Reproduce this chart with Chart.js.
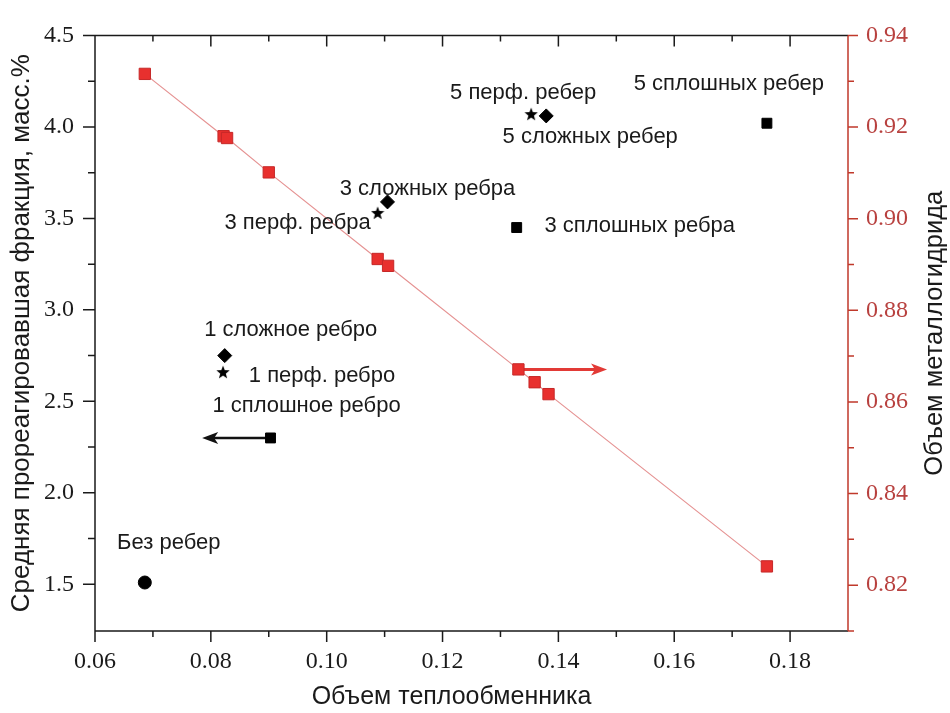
<!DOCTYPE html>
<html>
<head>
<script src="https://cdn.jsdelivr.net/npm/chart.js@4.4.1/dist/chart.umd.min.js"></script>
<style>
  body { margin: 0; background: #fff; }
  .chart-container { width: 950px; height: 713px; }
</style>
</head>
<body>
<div class="chart-container"><canvas id="myChart"></canvas></div>
<script>
// red series: metal hydride volume (right axis)
var hydrideX = [0.0686, 0.0822, 0.0828, 0.0900, 0.1088, 0.1106, 0.1331, 0.1359, 0.1383, 0.1760];
var hydrideY = [0.9316, 0.9180, 0.9176, 0.9101, 0.8912, 0.8897, 0.8671, 0.8643, 0.8617, 0.8241];

// black points: mean reacted fraction (left axis)
var noneX = [0.0686];
var noneY = [1.51];
var noneNames = ["Без ребер"];

var solidX = [0.0903, 0.1328, 0.1760];
var solidY = [2.30, 3.45, 4.02];
var solidNames = ["1 сплошное ребро", "3 сплошных ребра", "5 сплошных ребер"];

var complexX = [0.0824, 0.1105, 0.1379];
var complexY = [2.75, 3.59, 4.06];
var complexNames = ["1 сложное ребро", "3 сложных ребра", "5 сложных ребер"];

var perfX = [0.0821, 0.1088, 0.1353];
var perfY = [2.66, 3.53, 4.07];
var perfNames = ["1 перф. ребро", "3 перф. ребра", "5 перф. ребер"];

// arrows showing which axis a series belongs to
var arrowStartX = [0.0903, 0.1331];
var arrowEndX = [0.0785, 0.1484];
var arrowY = [2.30, 0.8671];
var arrowAxis = ["y", "y2"];

// ticks
var xMajorTicks = [0.06, 0.08, 0.10, 0.12, 0.14, 0.16, 0.18];
var xMinorTicks = [0.07, 0.09, 0.11, 0.13, 0.15, 0.17];
var yMajorTicks = [1.5, 2.0, 2.5, 3.0, 3.5, 4.0, 4.5];
var yMinorTicks = [1.75, 2.25, 2.75, 3.25, 3.75, 4.25];
var y2MajorTicks = [0.82, 0.84, 0.86, 0.88, 0.90, 0.92, 0.94];
var y2MinorTicks = [0.81, 0.83, 0.85, 0.87, 0.89, 0.91, 0.93];

// styling (pixel offsets of the text labels from their points)
var labelOffsets = {
  none: [[24, -40]],
  solid: [[36, -32], [123, -2], [-38, -39]],
  complex: [[66, -26], [40, -13], [44, 21]],
  perf: [[99, 4], [-80, 10], [-8, -21]]
};
var arrowColors = ["#111", "#e23a36"];
var RED_AXIS = "#c0392b";
var RED_TEXT = "#b8413f";
var INK = "#1a1a1a";
var SANS = "Liberation Sans, Arial, sans-serif";
var SERIF = "Liberation Serif, Times New Roman, serif";

function pts(xs, ys) {
  return xs.map(function (x, i) { return { x: x, y: ys[i] }; });
}

// filled 5-point star used as a point style
function makeStar(size) {
  var c = document.createElement("canvas");
  c.width = size; c.height = size;
  var g = c.getContext("2d");
  var cx = size / 2, cy = size / 2 + 0.5, R = size / 2, r = R * 0.42;
  g.beginPath();
  for (var i = 0; i < 10; i++) {
    var a = -Math.PI / 2 + i * Math.PI / 5;
    var rr = i % 2 === 0 ? R : r;
    g.lineTo(cx + rr * Math.cos(a), cy + rr * Math.sin(a));
  }
  g.closePath();
  g.fillStyle = "#000";
  g.fill();
  return c;
}
var starImg = makeStar(14);

function setTicks(list) {
  return function (scale) {
    scale.ticks = list.map(function (v) { return { value: v }; });
  };
}

var frameAndTicks = {
  id: "frameAndTicks",
  beforeDatasetsDraw: function (chart) {
    var ctx = chart.ctx;
    // arrows
    for (var i = 0; i < arrowStartX.length; i++) {
      var sx = chart.scales.x.getPixelForValue(arrowStartX[i]);
      var ex = chart.scales.x.getPixelForValue(arrowEndX[i]);
      var py = chart.scales[arrowAxis[i]].getPixelForValue(arrowY[i]);
      var dir = ex > sx ? 1 : -1;
      ctx.save();
      ctx.strokeStyle = arrowColors[i];
      ctx.fillStyle = arrowColors[i];
      ctx.lineWidth = i === 0 ? 2.5 : 3;
      ctx.beginPath();
      ctx.moveTo(sx, py);
      ctx.lineTo(ex - dir * 10, py);
      ctx.stroke();
      ctx.beginPath();
      ctx.moveTo(ex, py);
      ctx.lineTo(ex - dir * 16, py - 6);
      ctx.lineTo(ex - dir * 12, py);
      ctx.lineTo(ex - dir * 16, py + 6);
      ctx.closePath();
      ctx.fill();
      ctx.restore();
    }
  },
  afterDraw: function (chart) {
    var ctx = chart.ctx;
    var a = chart.chartArea;
    var sx = chart.scales.x, sy = chart.scales.y, sy2 = chart.scales.y2;
    ctx.save();
    ctx.lineWidth = 1.5;
    ctx.strokeStyle = INK;
    ctx.beginPath();
    ctx.moveTo(a.left, a.top); ctx.lineTo(a.right, a.top);
    ctx.moveTo(a.left, a.top); ctx.lineTo(a.left, a.bottom);
    ctx.moveTo(a.left, a.bottom); ctx.lineTo(a.right, a.bottom);
    xMajorTicks.concat(xMinorTicks).forEach(function (v) {
      var len = xMajorTicks.indexOf(v) >= 0 ? 11 : 6;
      var px = sx.getPixelForValue(v);
      ctx.moveTo(px, a.bottom); ctx.lineTo(px, a.bottom + len);
      ctx.moveTo(px, a.top); ctx.lineTo(px, a.top + len);
    });
    yMajorTicks.concat(yMinorTicks).forEach(function (v) {
      var len = yMajorTicks.indexOf(v) >= 0 ? 12 : 7;
      var py = sy.getPixelForValue(v);
      ctx.moveTo(a.left, py); ctx.lineTo(a.left - len, py);
    });
    ctx.stroke();
    ctx.strokeStyle = RED_AXIS;
    ctx.beginPath();
    ctx.moveTo(a.right, a.top); ctx.lineTo(a.right, a.bottom);
    y2MajorTicks.concat(y2MinorTicks).forEach(function (v) {
      var len = y2MajorTicks.indexOf(v) >= 0 ? 10 : 6;
      var py = sy2.getPixelForValue(v);
      ctx.moveTo(a.right, py); ctx.lineTo(a.right + len, py);
    });
    ctx.stroke();

    ctx.fillStyle = INK;
    ctx.textAlign = "center";
    ctx.textBaseline = "middle";
    // bottom axis title (sits a little left of the plot centre in the original)
    ctx.font = "25px " + SANS;
    ctx.fillText("Объем теплообменника", (a.left + a.right) / 2 - 20, 697);

    // right axis title, reading bottom to top
    ctx.translate(935, (a.top + a.bottom) / 2);
    ctx.rotate(-Math.PI / 2);
    ctx.font = "25.5px " + SANS;
    ctx.fillText("Объем металлогидрида", 0, 0);
    ctx.restore();
  },
  afterDatasetsDraw: function (chart) {
    var ctx = chart.ctx;
    var groups = [
      [noneX, noneY, noneNames, labelOffsets.none],
      [solidX, solidY, solidNames, labelOffsets.solid],
      [complexX, complexY, complexNames, labelOffsets.complex],
      [perfX, perfY, perfNames, labelOffsets.perf]
    ];
    ctx.save();
    ctx.font = "22px " + SANS;
    ctx.fillStyle = INK;
    ctx.textAlign = "center";
    ctx.textBaseline = "middle";
    groups.forEach(function (g) {
      g[2].forEach(function (name, i) {
        var px = chart.scales.x.getPixelForValue(g[0][i]) + g[3][i][0];
        var py = chart.scales.y.getPixelForValue(g[1][i]) + g[3][i][1];
        ctx.fillText(name, px, py);
      });
    });
    ctx.restore();
  }
};

var ctx = document.getElementById("myChart").getContext("2d");
var chart = new Chart(ctx, {
  type: "scatter",
  data: {
    datasets: [
      {
        label: "Объем металлогидрида",
        data: pts(hydrideX, hydrideY),
        yAxisID: "y2",
        showLine: true,
        borderColor: "rgba(220,110,110,0.75)",
        borderWidth: 1.2,
        pointStyle: "rect",
        pointRadius: 8,
        pointBackgroundColor: "#e8302e",
        pointBorderColor: "#c62828",
        pointBorderWidth: 1
      },
      {
        label: "Без ребер",
        data: pts(noneX, noneY),
        yAxisID: "y",
        pointStyle: "circle",
        pointRadius: 6.5,
        pointBackgroundColor: "#000",
        pointBorderColor: "#000"
      },
      {
        label: "сплошные",
        data: pts(solidX, solidY),
        yAxisID: "y",
        pointStyle: "rect",
        pointRadius: 7,
        pointBackgroundColor: "#000",
        pointBorderColor: "#000"
      },
      {
        label: "сложные",
        data: pts(complexX, complexY),
        yAxisID: "y",
        pointStyle: "rectRot",
        pointRadius: 7,
        pointBackgroundColor: "#000",
        pointBorderColor: "#000"
      },
      {
        label: "перф.",
        data: pts(perfX, perfY),
        yAxisID: "y",
        pointStyle: starImg,
        pointRadius: 7
      }
    ]
  },
  options: {
    responsive: true,
    maintainAspectRatio: false,
    animation: false,
    layout: { padding: { top: 28, left: 0, right: 0, bottom: 0 } },
    plugins: { legend: { display: false }, tooltip: { enabled: false } },
    scales: {
      x: {
        type: "linear",
        position: "bottom",
        min: 0.06,
        max: 0.19,
        afterBuildTicks: setTicks(xMajorTicks),
        afterFit: function (s) { s.height = 82; },
        grid: { display: false, drawTicks: false },
        border: { display: false },
        ticks: {
          autoSkip: false,
          maxRotation: 0,
          padding: 16,
          color: INK,
          font: { family: SERIF, size: 24 },
          callback: function (v) { return v.toFixed(2); }
        },
        title: { display: false }
      },
      y: {
        type: "linear",
        position: "left",
        min: 1.245,
        max: 4.5,
        afterBuildTicks: setTicks(yMajorTicks),
        afterFit: function (s) { s.width = 95; },
        grid: { display: false, drawTicks: false },
        border: { display: false },
        ticks: {
          autoSkip: false,
          padding: 21,
          color: INK,
          font: { family: SERIF, size: 24 },
          callback: function (v) { return v.toFixed(1); }
        },
        title: {
          display: true,
          text: "Средняя прореагировавшая фракция, масс.%",
          color: INK,
          font: { family: SANS, size: 26 },
          padding: { top: 6, bottom: 0 }
        }
      },
      y2: {
        type: "linear",
        position: "right",
        min: 0.81,
        max: 0.94,
        afterBuildTicks: setTicks(y2MajorTicks),
        afterFit: function (s) { s.width = 102; },
        grid: { display: false, drawTicks: false },
        border: { display: false },
        ticks: {
          autoSkip: false,
          padding: 18,
          color: RED_TEXT,
          font: { family: SERIF, size: 24 },
          callback: function (v) { return v.toFixed(2); }
        }
      }
    }
  },
  plugins: [frameAndTicks]
});
</script>
</body>
</html>
